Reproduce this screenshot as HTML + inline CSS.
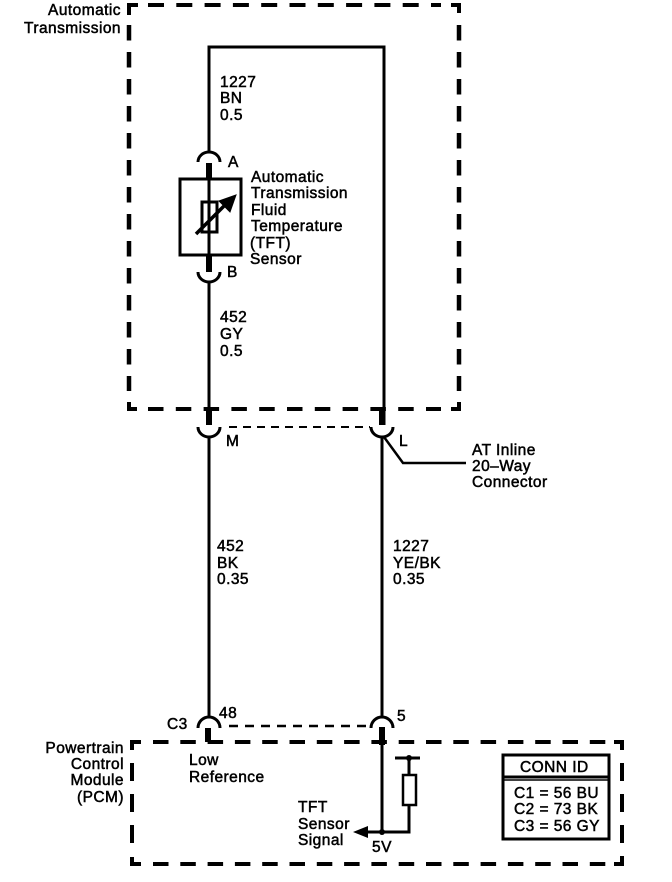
<!DOCTYPE html>
<html><head><meta charset="utf-8"><style>
html,body{margin:0;padding:0;background:#fff}
svg{display:block}
text{font-family:"Liberation Sans",sans-serif;font-size:15.5px;letter-spacing:.45px;fill:#000;stroke:#000;stroke-width:.5px}
</style></head><body>
<svg width="672" height="882" viewBox="0 0 672 882" xmlns="http://www.w3.org/2000/svg">
<g fill="none" stroke="#000">
<!-- top dashed box -->
<path d="M138 5H129V15M451 5H459V13M129 402V409H137M451 409H459V402" stroke-width="4"/>
<path d="M148 5H441" stroke-width="4" stroke-dasharray="16 12.3"/>
<path d="M148 409H441" stroke-width="4" stroke-dasharray="15.5 12.3"/>
<path d="M129 25V391" stroke-width="4.5" stroke-dasharray="15.5 11.5"/>
<path d="M459 25V391" stroke-width="4.5" stroke-dasharray="15.5 11.5"/>
<!-- bottom dashed box -->
<path d="M141 742H132V750M614 742H622V750M132 857V864H141M614 864H622V856" stroke-width="4"/>
<path d="M153 742H606" stroke-width="4" stroke-dasharray="15.5 11.8"/>
<path d="M153 864H606" stroke-width="4" stroke-dasharray="15.5 11.8"/>
<path d="M132 763V845" stroke-width="4" stroke-dasharray="18 13"/>
<path d="M622 763V845" stroke-width="4" stroke-dasharray="18 13"/>
<!-- connector dashes -->
<path d="M229 427H370" stroke-width="2" stroke-dasharray="8 6"/>
<path d="M229 726H368" stroke-width="2.5" stroke-dasharray="9 7"/>
<!-- wires -->
<path d="M209 152V47H384V425" stroke-width="3"/>
<path d="M209 179V255" stroke-width="3"/>
<path d="M209 282V409" stroke-width="3"/>
<path d="M209 437V717" stroke-width="3"/>
<path d="M382 437V717" stroke-width="3"/>
<path d="M209 163V179M209 255V272M209 409V425M208 728V742M382 409V425M382 727V745" stroke-width="6"/>
<path d="M382 745V832H409V805M409 775V758M395 758H420" stroke-width="3"/>
<path d="M382 832H365" stroke-width="3"/>
<!-- arcs -->
<path d="M198 162A11 10 0 0 1 220 162" stroke-width="3"/>
<path d="M198 272A11 10 0 0 0 220 272" stroke-width="3"/>
<path d="M198 427A11 10 0 0 0 220 427" stroke-width="3"/>
<path d="M371 427A11 10 0 0 0 393 427" stroke-width="3"/>
<path d="M198 728A11 11 0 0 1 220 728" stroke-width="3"/>
<path d="M371 728A11 11 0 0 1 393 728" stroke-width="3"/>
<!-- leader -->
<path d="M384 437L403 463H466" stroke-width="2.5"/>
<!-- sensor -->
<rect x="180" y="179" width="61" height="76" stroke-width="3"/>
<rect x="202" y="202" width="15" height="30" stroke-width="3"/>
<path d="M196 234L226 204" stroke-width="3.5"/>
<!-- pullup resistor -->
<rect x="403" y="775" width="13" height="30" stroke-width="2.5"/>
<!-- conn id -->
<rect x="503" y="755" width="106" height="84" stroke-width="3"/>
<path d="M503 777H609" stroke-width="3"/>
<path d="M503 780H609" stroke-width="1.5"/>
</g>
<path d="M236 195L219 201L230 212Z" fill="#000" stroke="#000"/>
<path d="M353 832L368 826V838Z" fill="#000"/>
<circle cx="382" cy="832" r="3"/>
<circle cx="409" cy="758" r="3"/>
<text x="121" y="15" text-anchor="end">Automatic</text>
<text x="121" y="33" text-anchor="end">Transmission</text>
<text x="220" y="87">1227</text>
<text x="220" y="103">BN</text>
<text x="220" y="120">0.5</text>
<text x="228" y="167">A</text>
<text x="227" y="277">B</text>
<text x="251" y="182">Automatic</text>
<text x="251" y="198">Transmission</text>
<text x="251" y="215">Fluid</text>
<text x="251" y="231">Temperature</text>
<text x="250" y="248">(TFT)</text>
<text x="250" y="264">Sensor</text>
<text x="220" y="322">452</text>
<text x="220" y="339">GY</text>
<text x="220" y="356">0.5</text>
<text x="226" y="446">M</text>
<text x="399" y="446">L</text>
<text x="472" y="455">AT Inline</text>
<text x="472" y="471">20–Way</text>
<text x="472" y="487">Connector</text>
<text x="217" y="551">452</text>
<text x="217" y="568">BK</text>
<text x="217" y="584">0.35</text>
<text x="393" y="551">1227</text>
<text x="393" y="568">YE/BK</text>
<text x="393" y="584">0.35</text>
<text x="167" y="729">C3</text>
<text x="219" y="718">48</text>
<text x="397" y="721">5</text>
<text x="124" y="753" text-anchor="end">Powertrain</text>
<text x="124" y="769" text-anchor="end">Control</text>
<text x="124" y="785" text-anchor="end">Module</text>
<text x="124" y="802" text-anchor="end">(PCM)</text>
<text x="189" y="765">Low</text>
<text x="189" y="782">Reference</text>
<text x="298" y="812">TFT</text>
<text x="298" y="829">Sensor</text>
<text x="298" y="845">Signal</text>
<text x="372" y="852">5V</text>
<text x="520" y="772">CONN ID</text>
<text x="514" y="798">C1 = 56 BU</text>
<text x="514" y="814">C2 = 73 BK</text>
<text x="514" y="831">C3 = 56 GY</text>
</svg>
</body></html>
